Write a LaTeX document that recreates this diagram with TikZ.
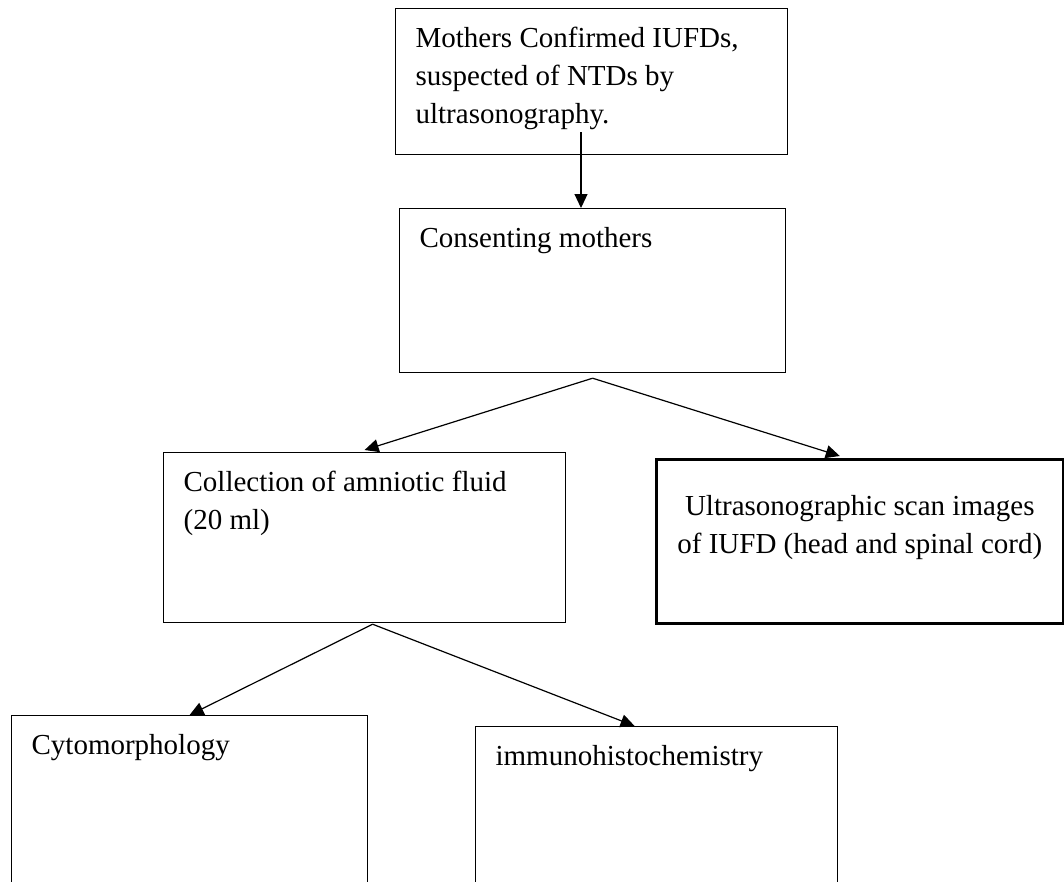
\documentclass[tikz,border=0pt]{standalone}
\usepackage{fontspec}
\setmainfont{Liberation Serif}
\usetikzlibrary{arrows.meta,positioning,calc}
\tikzset{
  flowbox/.style={rectangle, draw=black, line width=1.2pt, anchor=north west,
                  inner xsep=20pt, inner ysep=12pt, font=\fontsize{29}{38}\selectfont},
  arr/.style={-{Triangle[length=14pt,width=13pt]}, line width=1.2pt, draw=black},
}
\newcommand{\boxtxt}[3]{\parbox[c][#2][t]{#1}{\raggedright\strut #3}}

\begin{document}
\begin{tikzpicture}[x=1pt, y=-1pt]
    \useasboundingbox (0,0) rectangle (1064,881);
    \clip (0,0) rectangle (1064,881);
    \node[flowbox] (mothers) at (395,8)
      {\boxtxt{352pt}{122pt}{Mothers Confirmed IUFDs,\\suspected of NTDs by\\ultrasonography.}};
    \node[flowbox] (consent) at (399,208)
      {\boxtxt{346pt}{140pt}{Consenting mothers}};
    \node[flowbox] (collect) at (163,452)
      {\boxtxt{362pt}{146pt}{Collection of amniotic fluid\\(20 ml)}};
    \node[flowbox, line width=2.6pt, inner xsep=10pt] (ultra) at (655,458)
      {\parbox[c][140pt][t]{387pt}{\centering\vspace*{18pt}\strut Ultrasonographic scan images\\of IUFD (head and spinal cord)}};
    \node[flowbox] (cyto) at (11,715)
      {\boxtxt{316pt}{176pt}{Cytomorphology}};
    \node[flowbox] (immuno) at (475,726)
      {\boxtxt{322pt}{176pt}{immunohistochemistry}};
    \coordinate (mothersOut) at (581,132);
    \coordinate (split1) at ([yshift=-5pt]consent.south);
    \coordinate (split2) at ([xshift=8pt,yshift=-1pt]collect.south);
    \draw[arr] (mothersOut) -- (mothersOut |- consent.north);
    \draw[arr] (split1) -- ([yshift=2pt]collect.north);
    \draw[arr] (split1) -- ([xshift=-20pt,yshift=2pt]ultra.north);
    \draw[arr] (split2) -- (cyto.north);
    \draw[arr] (split2) -- ([xshift=-22pt]immuno.north);
  \end{tikzpicture}
\end{document}
